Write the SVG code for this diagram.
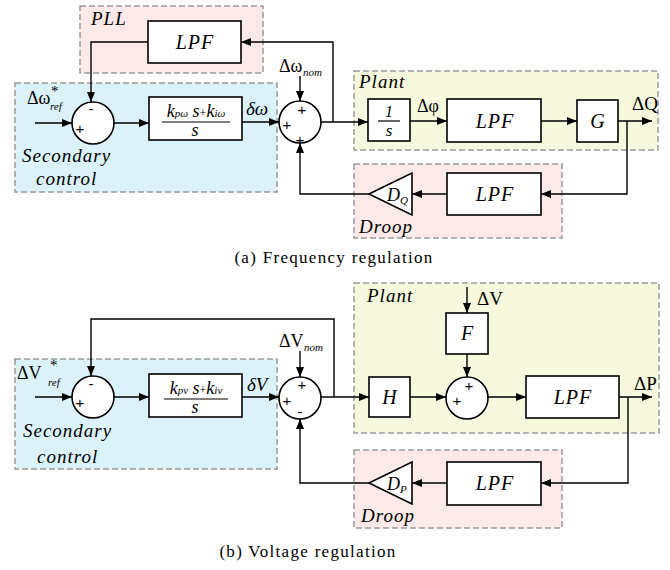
<svg xmlns="http://www.w3.org/2000/svg" width="670" height="570" viewBox="0 0 670 570">
<defs>
<marker id="ah" markerUnits="userSpaceOnUse" markerWidth="11" markerHeight="9" refX="10" refY="4" orient="auto">
<path d="M0,0 L10,4 L0,8 z" fill="#000"/>
</marker>
<style>
.reg{stroke:#9a9a9a;stroke-width:1.5;stroke-dasharray:6,3}
.pink{fill:#fde9e9}
.blue{fill:#dbf2fb}
.yel{fill:#f6f9dd}
.blk{fill:#fff;stroke:#000;stroke-width:1.6}
.c{fill:none;stroke:#000;stroke-width:1.4}
.a{marker-end:url(#ah)}
text{font-family:"Liberation Serif","DejaVu Serif",serif;fill:#000}
.it{font-style:italic}
.lb{font-size:19px;font-style:italic;letter-spacing:1px}
.bx{font-size:20px;font-style:italic;letter-spacing:1px}
.sym{font-size:18px}
.sub{font-size:11px;font-style:italic}
.sg{font-size:15px;font-family:"Liberation Sans",Arial,sans-serif}
.cap{font-size:17px;letter-spacing:1.3px}
</style>
</defs>
<!-- regions -->
<g id="regions">
<rect id="pll-region" x="80" y="6" width="183" height="67" class="reg pink"/>
<rect id="sec-region-a" x="15" y="83" width="262" height="109" class="reg blue"/>
<rect id="plant-region-a" x="354" y="71" width="304" height="79" class="reg yel"/>
<rect id="droop-region-a" x="354" y="164" width="208" height="74" class="reg pink"/>
<rect id="sec-region-b" x="15" y="359" width="262" height="110" class="reg blue"/>
<rect id="plant-region-b" x="354" y="283" width="305" height="150" class="reg yel"/>
<rect id="droop-region-b" x="354" y="450" width="208" height="78" class="reg pink"/>
<text x="91" y="25" class="lb">PLL</text>
<text x="22" y="162" class="lb">Secondary</text>
<text x="36" y="185" class="lb">control</text>
<text x="359" y="88" class="lb">Plant</text>
<text x="359" y="233" class="lb">Droop</text>
<text x="23" y="437" class="lb">Secondary</text>
<text x="37" y="463" class="lb">control</text>
<text x="367" y="302" class="lb">Plant</text>
<text x="361" y="522" class="lb">Droop</text>
</g>
<!-- connectors -->
<g id="connectors">
<path class="c a" d="M35,123 H72"/>
<path class="c a" d="M148,42 H91 V102"/>
<path class="c a" d="M114,123 H149"/>
<path class="c a" d="M242,122 H279"/>
<path class="c a" d="M300,76 V101"/>
<path class="c a" d="M321,122 H368"/>
<path class="c a" d="M333,122 V42 H241"/>
<path class="c a" d="M410,121 H447"/>
<path class="c a" d="M541,121 H577"/>
<path class="c a" d="M618,121 H652"/>
<path class="c a" d="M627,121 V194 H541"/>
<path class="c a" d="M447,194 H412"/>
<path class="c a" d="M369,194 H300 V143"/>

<path class="c a" d="M35,397 H72"/>
<path class="c a" d="M334,397 V319 H91 V376"/>
<path class="c a" d="M114,397 H149"/>
<path class="c a" d="M242,397 H279"/>
<path class="c a" d="M300,351 V377"/>
<path class="c a" d="M321,397 H369"/>
<path class="c a" d="M410,397 H446"/>
<path class="c a" d="M467,287 V313"/>
<path class="c a" d="M467,354 V377"/>
<path class="c a" d="M488,397 H526"/>
<path class="c a" d="M619,397 H652"/>
<path class="c a" d="M628,397 V483 H541"/>
<path class="c a" d="M447,483 H412"/>
<path class="c a" d="M369,483 H300 V419"/>
</g>
<!-- frequency regulation nodes -->
<g id="lpf-pll">
<rect x="148" y="21" width="93" height="42" class="blk"/>
<text x="195" y="49" class="bx" text-anchor="middle">LPF</text>
</g>
<g id="sum1-a">
<circle cx="93" cy="123" r="21" class="blk"/>
<text x="91" y="114" class="sg" text-anchor="middle">-</text>
<text x="80" y="134" class="sg" text-anchor="middle">+</text>
</g>
<g id="pi-a">
<rect x="149" y="97" width="93" height="43" class="blk"/>
<text x="196" y="117" text-anchor="middle" class="it"><tspan font-size="18">k</tspan><tspan font-size="11">pω</tspan><tspan font-size="18"> s</tspan><tspan font-size="12" font-style="normal">+</tspan><tspan font-size="18">k</tspan><tspan font-size="11">iω</tspan></text>
<line x1="162" y1="122" x2="230" y2="122" stroke="#000" stroke-width="1.2"/>
<text x="195" y="136" font-size="18" class="it" text-anchor="middle">s</text>
</g>
<g id="sum2-a">
<circle cx="300" cy="122" r="21" class="blk"/>
<text x="302" y="115" class="sg" text-anchor="middle">+</text>
<text x="287" y="130" class="sg" text-anchor="middle">+</text>
<text x="300" y="145" class="sg" text-anchor="middle">+</text>
</g>
<g id="integrator">
<rect x="368" y="99" width="42" height="42" class="blk"/>
<text x="389" y="117" font-size="16" class="it" text-anchor="middle">1</text>
<line x1="378" y1="121" x2="400" y2="121" stroke="#000" stroke-width="1.2"/>
<text x="389" y="136" font-size="17" class="it" text-anchor="middle">s</text>
</g>
<g id="lpf-plant-a">
<rect x="447" y="99" width="94" height="43" class="blk"/>
<text x="495" y="128" class="bx" text-anchor="middle">LPF</text>
</g>
<g id="g-block">
<rect x="577" y="100" width="41" height="42" class="blk"/>
<text x="597.5" y="128" font-size="20" class="it" text-anchor="middle">G</text>
</g>
<g id="lpf-droop-a">
<rect x="447" y="173" width="94" height="42" class="blk"/>
<text x="495" y="201" class="bx" text-anchor="middle">LPF</text>
</g>
<g id="dq">
<polygon points="369,194 412,173 412,215" class="blk"/>
<text x="387" y="201" font-size="18" class="it">D<tspan font-size="11" dy="3">Q</tspan></text>
</g>
<!-- labels a -->
<g id="labels-a">
<text x="27" y="104" class="sym">Δω</text>
<text x="51" y="96" font-size="15">*</text>
<text x="50" y="110" class="sub">ref</text>
<text x="246" y="115" font-size="19" class="it">δω</text>
<text x="279" y="72" class="sym">Δω</text>
<text x="303" y="76" class="sub">nom</text>
<text x="417" y="112" class="sym">Δφ</text>
<text x="632" y="110" font-size="19">ΔQ</text>
<text x="334" y="263" class="cap" text-anchor="middle">(a) Frequency regulation</text>
</g>
<!-- voltage regulation nodes -->
<g id="sum1-b">
<circle cx="93" cy="397" r="21" class="blk"/>
<text x="91" y="389" class="sg" text-anchor="middle">-</text>
<text x="80" y="408" class="sg" text-anchor="middle">+</text>
</g>
<g id="pi-b">
<rect x="149" y="374" width="93" height="43" class="blk"/>
<text x="196" y="394" text-anchor="middle" class="it"><tspan font-size="18">k</tspan><tspan font-size="11">pv</tspan><tspan font-size="18"> s</tspan><tspan font-size="12" font-style="normal">+</tspan><tspan font-size="18">k</tspan><tspan font-size="11">iv</tspan></text>
<line x1="164" y1="399" x2="228" y2="399" stroke="#000" stroke-width="1.2"/>
<text x="195" y="413" font-size="18" class="it" text-anchor="middle">s</text>
</g>
<g id="sum2-b">
<circle cx="300" cy="398" r="21" class="blk"/>
<text x="302" y="390" class="sg" text-anchor="middle">+</text>
<text x="287" y="406" class="sg" text-anchor="middle">+</text>
<text x="300" y="417" class="sg" text-anchor="middle">-</text>
</g>
<g id="h-block">
<rect x="369" y="377" width="41" height="40" class="blk"/>
<text x="389.5" y="404" font-size="20" class="it" text-anchor="middle">H</text>
</g>
<g id="f-block">
<rect x="446" y="313" width="42" height="41" class="blk"/>
<text x="467" y="340" font-size="20" class="it" text-anchor="middle">F</text>
</g>
<g id="sum3-b">
<circle cx="467" cy="398" r="21" class="blk"/>
<text x="469" y="391" class="sg" text-anchor="middle">+</text>
<text x="457" y="406" class="sg" text-anchor="middle">+</text>
</g>
<g id="lpf-plant-b">
<rect x="526" y="376" width="93" height="42" class="blk"/>
<text x="573" y="404" class="bx" text-anchor="middle">LPF</text>
</g>
<g id="lpf-droop-b">
<rect x="447" y="462" width="94" height="43" class="blk"/>
<text x="495" y="490" class="bx" text-anchor="middle">LPF</text>
</g>
<g id="dp">
<polygon points="369,483 412,462 412,504" class="blk"/>
<text x="387" y="490" font-size="18" class="it">D<tspan font-size="11" dy="3">P</tspan></text>
</g>
<!-- labels b -->
<g id="labels-b">
<text x="17" y="379" class="sym">ΔV</text>
<text x="50" y="370" font-size="15">*</text>
<text x="48" y="386" class="sub">ref</text>
<text x="247" y="391" font-size="19" class="it">δV</text>
<text x="279" y="347" class="sym">ΔV</text>
<text x="304" y="351" class="sub">nom</text>
<text x="477" y="305" font-size="19">ΔV</text>
<text x="634" y="390" font-size="19">ΔP</text>
<text x="308" y="557" class="cap" text-anchor="middle">(b) Voltage regulation</text>
</g>
</svg>
